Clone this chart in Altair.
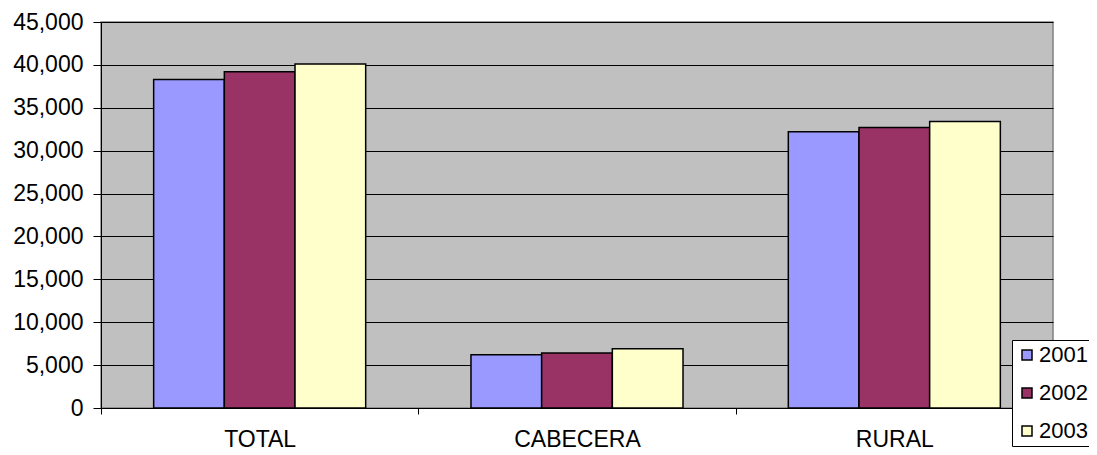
import altair as alt
import pandas as pd

categories = ["TOTAL", "CABECERA", "RURAL"]
years = ["2001", "2002", "2003"]
values_2001 = [38300, 6200, 32200]
values_2002 = [39200, 6400, 32700]
values_2003 = [40100, 6900, 33400]
colors = ["#9999FF", "#993366", "#FFFFCC"]
y_ticks = [0, 5000, 10000, 15000, 20000, 25000, 30000, 35000, 40000, 45000]

rows = []
for yr, vals in zip(years, [values_2001, values_2002, values_2003]):
    for c, v in zip(categories, vals):
        rows.append({"cat": c, "year": yr, "value": v})
df = pd.DataFrame(rows)

FONT = "Liberation Sans"

chart = alt.Chart(df).mark_bar(stroke="black", strokeWidth=1.5).encode(
    x=alt.X("cat:N", sort=categories, title=None,
            scale=alt.Scale(paddingInner=0, paddingOuter=0),
            axis=alt.Axis(labelAngle=0, tickBand="extent", tickSize=6, tickColor="black",
                          domainColor="black", labelFontSize=23, labelFont=FONT,
                          labelColor="black", labelPadding=14, grid=False)),
    xOffset=alt.XOffset("year:N", sort=years,
                        scale=alt.Scale(paddingInner=0, paddingOuter=0.745)),
    y=alt.Y("value:Q", title=None,
            scale=alt.Scale(domain=[0, 45000], nice=False),
            axis=alt.Axis(values=y_ticks, format=",.0f", tickSize=8, tickColor="black",
                          domainColor="black", labelFontSize=23, labelFont=FONT,
                          labelColor="black", labelPadding=10, gridColor="black",
                          gridWidth=1, gridOpacity=1)),
    color=alt.Color("year:N", sort=years, title=None,
                    scale=alt.Scale(domain=years, range=colors),
                    legend=alt.Legend(orient="none", legendX=911, legendY=318,
                                      symbolType="square", symbolSize=100,
                                      symbolStrokeColor="black", symbolStrokeWidth=1.5,
                                      labelFontSize=22, labelFont=FONT, labelColor="black",
                                      rowPadding=16, padding=4, fillColor="white",
                                      strokeColor="black", labelOffset=1)),
).properties(
    width=952, height=386,
    autosize=alt.AutoSizeParams(type="none"),
    padding={"left": 93, "top": 14, "right": 36, "bottom": 45},
).configure(background="white").configure_view(
    fill="#C0C0C0", stroke="#808080", strokeWidth=1.5
)

chart.save("out.html", embed_options={"renderer": "svg", "actions": False})
